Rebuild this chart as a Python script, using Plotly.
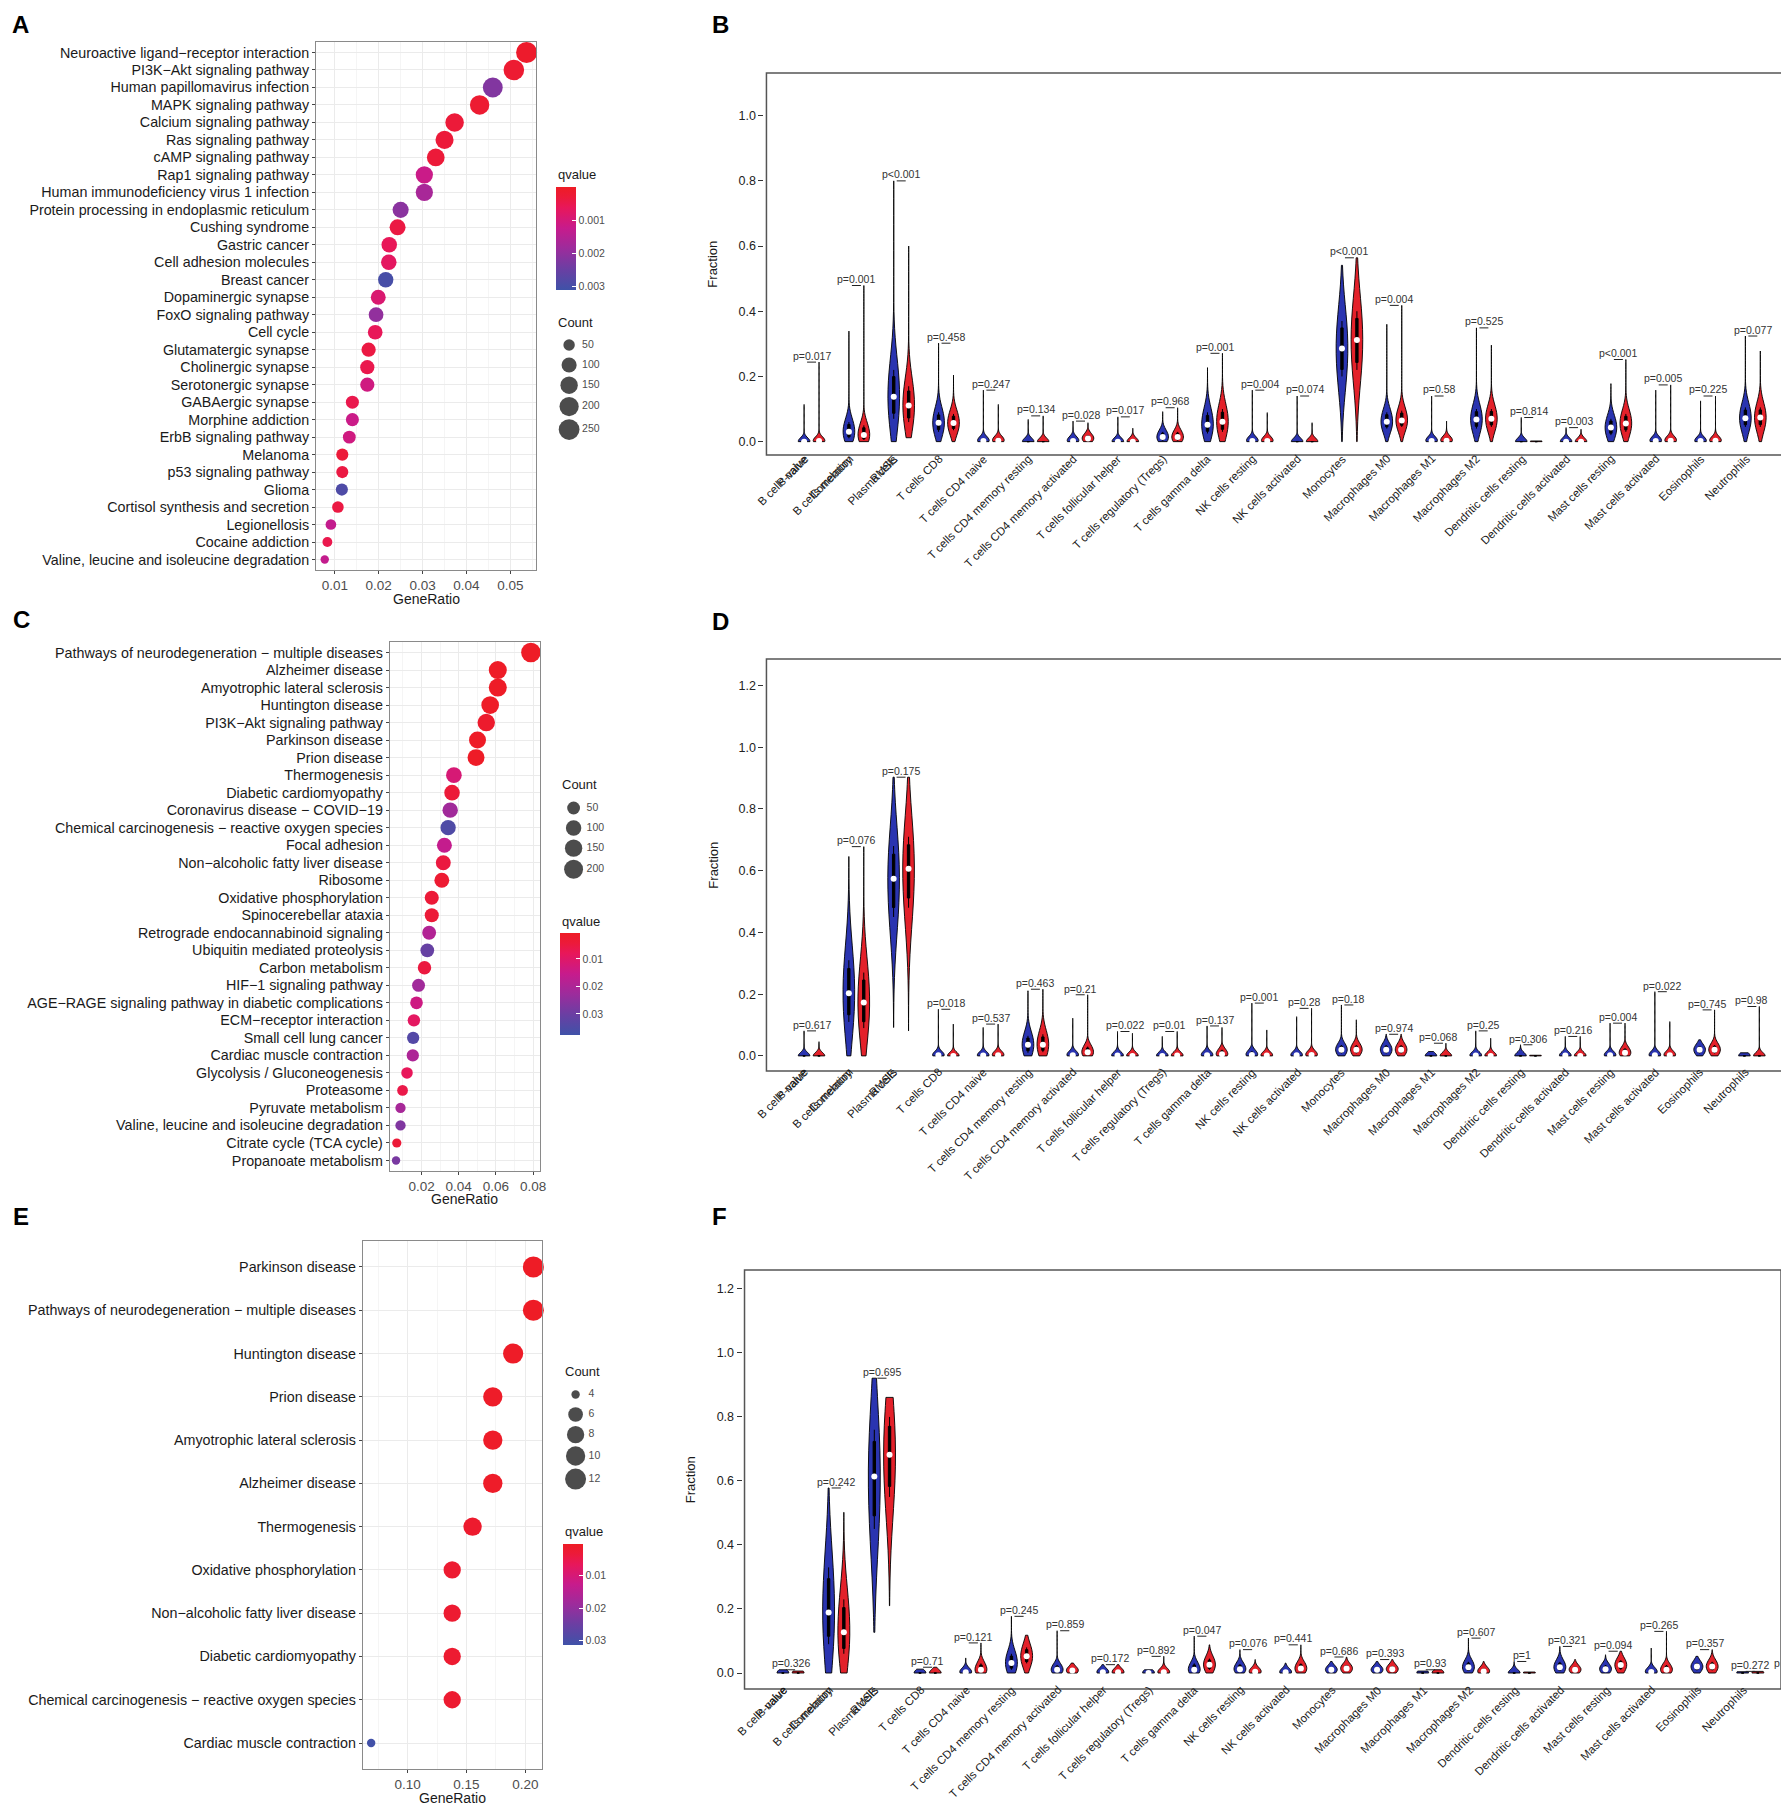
import plotly.graph_objects as go

W, H = 1789, 1807
FONT = 'Liberation Sans, Arial, sans-serif'

# ---------------- KEGG enrichment dot plots (A, C, E) ----------------
terms_a = ['Neuroactive ligand−receptor interaction', 'PI3K−Akt signaling pathway',
           'Human papillomavirus infection', 'MAPK signaling pathway', 'Calcium signaling pathway',
           'Ras signaling pathway', 'cAMP signaling pathway', 'Rap1 signaling pathway',
           'Human immunodeficiency virus 1 infection', 'Protein processing in endoplasmic reticulum',
           'Cushing syndrome', 'Gastric cancer', 'Cell adhesion molecules', 'Breast cancer',
           'Dopaminergic synapse', 'FoxO signaling pathway', 'Cell cycle', 'Glutamatergic synapse',
           'Cholinergic synapse', 'Serotonergic synapse', 'GABAergic synapse', 'Morphine addiction',
           'ErbB signaling pathway', 'Melanoma', 'p53 signaling pathway', 'Glioma',
           'Cortisol synthesis and secretion', 'Legionellosis', 'Cocaine addiction',
           'Valine, leucine and isoleucine degradation']
ratio_a = [0.0537, 0.0508, 0.0460, 0.0430, 0.0373, 0.0350, 0.0330, 0.0304, 0.0304, 0.0250,
           0.0243, 0.0224, 0.0223, 0.0216, 0.0199, 0.0194, 0.0192, 0.0177, 0.0174, 0.0174,
           0.0140, 0.0140, 0.0133, 0.0117, 0.0117, 0.0116, 0.0107, 0.0091, 0.0083, 0.0077]
count_a = [258, 244, 221, 206, 179, 168, 158, 146, 146, 120, 117, 108, 107, 104, 96,
           93, 92, 85, 84, 84, 67, 67, 64, 56, 56, 56, 51, 44, 40, 37]
qval_a = [0.0001, 0.0002, 0.0022, 0.0002, 0.0003, 0.0003, 0.0003, 0.0012, 0.0017, 0.0021,
          0.0004, 0.0006, 0.0007, 0.0030, 0.0009, 0.0020, 0.0006, 0.0004, 0.0005, 0.0011,
          0.0005, 0.0012, 0.0011, 0.0003, 0.0004, 0.0029, 0.0004, 0.0013, 0.0005, 0.0013]

terms_c = ['Pathways of neurodegeneration − multiple diseases', 'Alzheimer disease',
           'Amyotrophic lateral sclerosis', 'Huntington disease', 'PI3K−Akt signaling pathway',
           'Parkinson disease', 'Prion disease', 'Thermogenesis', 'Diabetic cardiomyopathy',
           'Coronavirus disease − COVID−19', 'Chemical carcinogenesis − reactive oxygen species',
           'Focal adhesion', 'Non−alcoholic fatty liver disease', 'Ribosome',
           'Oxidative phosphorylation', 'Spinocerebellar ataxia',
           'Retrograde endocannabinoid signaling', 'Ubiquitin mediated proteolysis',
           'Carbon metabolism', 'HIF−1 signaling pathway',
           'AGE−RAGE signaling pathway in diabetic complications', 'ECM−receptor interaction',
           'Small cell lung cancer', 'Cardiac muscle contraction', 'Glycolysis / Gluconeogenesis',
           'Proteasome', 'Pyruvate metabolism', 'Valine, leucine and isoleucine degradation',
           'Citrate cycle (TCA cycle)', 'Propanoate metabolism']
ratio_c = [0.0788, 0.0610, 0.0610, 0.0569, 0.0548, 0.0501, 0.0493, 0.0374, 0.0364, 0.0354,
           0.0343, 0.0323, 0.0317, 0.0309, 0.0255, 0.0255, 0.0241, 0.0231, 0.0216, 0.0184,
           0.0173, 0.0159, 0.0155, 0.0153, 0.0122, 0.0098, 0.0087, 0.0087, 0.0067, 0.0063]
count_c = [221, 171, 171, 159, 153, 140, 138, 105, 102, 99, 96, 90, 89, 87, 71,
           71, 67, 65, 60, 52, 48, 45, 43, 43, 34, 27, 24, 24, 19, 18]
qval_c = [0.001, 0.001, 0.001, 0.001, 0.002, 0.001, 0.001, 0.012, 0.004, 0.022,
          0.035, 0.016, 0.005, 0.003, 0.004, 0.004, 0.019, 0.031, 0.005, 0.022,
          0.014, 0.009, 0.034, 0.020, 0.008, 0.006, 0.021, 0.027, 0.004, 0.028]

terms_e = ['Parkinson disease', 'Pathways of neurodegeneration − multiple diseases',
           'Huntington disease', 'Prion disease', 'Amyotrophic lateral sclerosis',
           'Alzheimer disease', 'Thermogenesis', 'Oxidative phosphorylation',
           'Non−alcoholic fatty liver disease', 'Diabetic cardiomyopathy',
           'Chemical carcinogenesis − reactive oxygen species', 'Cardiac muscle contraction']
ratio_e = [0.2069, 0.2069, 0.1897, 0.1724, 0.1724, 0.1724, 0.1552, 0.1379, 0.1379, 0.1379,
           0.1379, 0.0690]
count_e = [12, 12, 11, 10, 10, 10, 9, 8, 8, 8, 8, 4]
qval_e = [0.0003, 0.0003, 0.0006, 0.0008, 0.0008, 0.0008, 0.0015, 0.002, 0.002, 0.002,
          0.002, 0.031]

# ---------------- CIBERSORT immune fractions (B, D, F) ----------------
cells = ['B cells naive', 'B cells memory', 'Plasma cells', 'T cells CD8', 'T cells CD4 naive',
         'T cells CD4 memory resting', 'T cells CD4 memory activated',
         'T cells follicular helper', 'T cells regulatory (Tregs)', 'T cells gamma delta',
         'NK cells resting', 'NK cells activated', 'Monocytes', 'Macrophages M0',
         'Macrophages M1', 'Macrophages M2', 'Dendritic cells resting',
         'Dendritic cells activated', 'Mast cells resting', 'Mast cells activated',
         'Eosinophils', 'Neutrophils']
extra_cols = ['P-value', 'Correlation', 'RMSE']

# each violin: [min, q1, median, q3, max]
b_normal = [[0, 0, 0, 0.003, 0.114], [0, 0.01, 0.03, 0.06, 0.339], [0, 0.07, 0.138, 0.22, 0.80],
            [0, 0.03, 0.058, 0.09, 0.302], [0, 0, 0.002, 0.01, 0.158], [0, 0, 0, 0, 0.068],
            [0, 0, 0.002, 0.01, 0.063], [0, 0, 0, 0.002, 0.076], [0, 0.003, 0.014, 0.03, 0.092],
            [0, 0.025, 0.052, 0.09, 0.227], [0, 0, 0.002, 0.01, 0.158], [0, 0, 0, 0, 0.140],
            [0, 0.20, 0.286, 0.37, 0.541], [0, 0.04, 0.061, 0.09, 0.360],
            [0, 0, 0.002, 0.01, 0.140], [0, 0.04, 0.068, 0.10, 0.349], [0, 0, 0, 0, 0.074],
            [0, 0, 0, 0.001, 0.043], [0, 0.02, 0.043, 0.07, 0.178], [0, 0, 0.002, 0.01, 0.158],
            [0, 0, 0.002, 0.008, 0.125], [0, 0.045, 0.072, 0.105, 0.324]]
b_tumor = [[0, 0, 0.002, 0.008, 0.244], [0, 0.005, 0.02, 0.05, 0.479],
           [0.012, 0.06, 0.111, 0.17, 0.60], [0, 0.035, 0.057, 0.085, 0.204],
           [0, 0, 0.003, 0.012, 0.114], [0, 0, 0, 0, 0.079], [0, 0.002, 0.01, 0.02, 0.058],
           [0, 0, 0, 0.001, 0.041], [0, 0.003, 0.014, 0.03, 0.104], [0, 0.03, 0.061, 0.1, 0.271],
           [0, 0, 0.002, 0.01, 0.089], [0, 0, 0, 0, 0.058], [0, 0.22, 0.312, 0.40, 0.564],
           [0, 0.045, 0.065, 0.095, 0.418], [0, 0, 0.003, 0.012, 0.063],
           [0, 0.045, 0.070, 0.10, 0.296], [0, 0, 0, 0, 0.002], [0, 0, 0, 0.001, 0.038],
           [0, 0.03, 0.056, 0.085, 0.252], [0, 0, 0.003, 0.012, 0.174],
           [0, 0, 0.003, 0.01, 0.140], [0, 0.045, 0.074, 0.105, 0.278]]
b_p = ['0.017', '0.001', '<0.001', '0.458', '0.247', '0.134', '0.028', '0.017', '0.968', '0.001',
       '0.004', '0.074', '<0.001', '0.004', '0.58', '0.525', '0.814', '0.003', '<0.001', '0.005',
       '0.225', '0.077']

d_normal = [[0, 0, 0, 0, 0.081], [0, 0.11, 0.203, 0.31, 0.646], [0.092, 0.45, 0.574, 0.68, 0.903],
            [0, 0, 0.002, 0.008, 0.151], [0, 0, 0.001, 0.006, 0.092],
            [0, 0.01, 0.036, 0.065, 0.211], [0, 0, 0.002, 0.01, 0.122],
            [0, 0, 0.001, 0.005, 0.079], [0, 0, 0, 0.003, 0.063], [0, 0, 0.002, 0.01, 0.097],
            [0, 0, 0.003, 0.015, 0.171], [0, 0, 0.002, 0.008, 0.127],
            [0, 0.008, 0.02, 0.035, 0.165], [0, 0.008, 0.02, 0.035, 0.070], [0, 0, 0, 0, 0.014],
            [0, 0, 0.001, 0.005, 0.081], [0, 0, 0, 0, 0.036], [0, 0, 0.001, 0.004, 0.063],
            [0, 0, 0.002, 0.008, 0.106], [0, 0, 0.002, 0.01, 0.208],
            [0, 0.008, 0.02, 0.032, 0.052], [0, 0, 0, 0, 0.010]]
d_tumor = [[0, 0, 0, 0, 0.046], [0, 0.09, 0.173, 0.27, 0.678], [0.081, 0.48, 0.606, 0.71, 0.903],
           [0, 0, 0, 0.002, 0.103], [0, 0, 0.002, 0.01, 0.103], [0, 0.012, 0.036, 0.07, 0.216],
           [0, 0.002, 0.012, 0.03, 0.198], [0, 0, 0, 0.003, 0.073], [0, 0, 0.001, 0.004, 0.079],
           [0, 0.001, 0.005, 0.02, 0.092], [0, 0, 0.001, 0.006, 0.084],
           [0, 0, 0.003, 0.012, 0.154], [0, 0.008, 0.02, 0.035, 0.117],
           [0, 0.008, 0.02, 0.035, 0.070], [0, 0, 0, 0, 0.041], [0, 0, 0, 0.003, 0.057],
           [0, 0, 0, 0, 0.002], [0, 0, 0, 0.003, 0.063], [0, 0.002, 0.01, 0.025, 0.106],
           [0, 0, 0.002, 0.01, 0.111], [0, 0.008, 0.02, 0.035, 0.149], [0, 0, 0, 0, 0.160]]
d_p = ['0.617', '0.076', '0.175', '0.018', '0.537', '0.463', '0.21', '0.022', '0.01', '0.137',
       '0.001', '0.28', '0.18', '0.974', '0.068', '0.25', '0.306', '0.216', '0.004', '0.022',
       '0.745', '0.98']

f_normal = [[0, 0, 0, 0, 0.010], [0, 0.09, 0.189, 0.33, 0.578], [0.127, 0.45, 0.614, 0.76, 0.921],
            [0, 0, 0, 0, 0.012], [0, 0, 0.002, 0.01, 0.047], [0, 0.01, 0.031, 0.06, 0.177],
            [0, 0.002, 0.01, 0.025, 0.132], [0, 0, 0.002, 0.008, 0.026],
            [0, 0, 0, 0.002, 0.010], [0, 0.003, 0.01, 0.03, 0.115],
            [0, 0.004, 0.012, 0.028, 0.073], [0, 0, 0.002, 0.008, 0.031],
            [0, 0.004, 0.01, 0.018, 0.036], [0, 0.004, 0.01, 0.018, 0.036], [0, 0, 0, 0, 0.006],
            [0, 0.006, 0.018, 0.035, 0.109], [0, 0, 0, 0, 0.036], [0, 0.006, 0.018, 0.035, 0.083],
            [0, 0.004, 0.012, 0.025, 0.057], [0, 0, 0.003, 0.012, 0.078],
            [0, 0.008, 0.02, 0.032, 0.052], [0, 0, 0, 0, 0.004]]
f_tumor = [[0, 0, 0, 0, 0.006], [0, 0.06, 0.127, 0.23, 0.502], [0.21, 0.55, 0.682, 0.80, 0.861],
           [0, 0, 0, 0, 0.018], [0, 0.002, 0.01, 0.03, 0.094], [0, 0.03, 0.052, 0.08, 0.118],
           [0, 0.002, 0.008, 0.015, 0.031], [0, 0, 0.002, 0.008, 0.026],
           [0, 0, 0.002, 0.008, 0.052], [0, 0.01, 0.026, 0.045, 0.088],
           [0, 0, 0.004, 0.012, 0.042], [0, 0.004, 0.014, 0.03, 0.088],
           [0, 0.005, 0.014, 0.025, 0.050], [0, 0.005, 0.012, 0.022, 0.042], [0, 0, 0, 0, 0.010],
           [0, 0, 0.005, 0.014, 0.036], [0, 0, 0, 0, 0.003], [0, 0.004, 0.01, 0.02, 0.042],
           [0, 0.01, 0.025, 0.04, 0.068], [0, 0.003, 0.01, 0.025, 0.130],
           [0, 0.008, 0.02, 0.035, 0.073], [0, 0, 0, 0, 0.005]]
f_p = ['0.326', '0.242', '0.695', '0.71', '0.121', '0.245', '0.859', '0.172', '0.892', '0.047',
       '0.076', '0.441', '0.686', '0.393', '0.93', '0.607', '1', '0.321', '0.094', '0.265',
       '0.357', '0.272']

Q_SCALE = [[0, '#3f52a8'], [0.2, '#6a3fa3'], [0.4, '#9c2c9c'], [0.6, '#c71b8c'],
           [0.8, '#e8175a'], [0.9, '#ec1a3a'], [1, '#ee1c25']]
BLUE = '#2a34b0'
RED = '#e3212a'


def xdom(a, b):
    return [a / W, b / W]


def ydom(top, bot):
    return [1 - bot / H, 1 - top / H]


def dot_size(c, lo, hi, dmin, dmax):
    return dmin + (dmax - dmin) * ((c - lo) / (hi - lo)) ** 0.5


fig = go.Figure()
layout = {}
annotations = []
shapes = []


def ax_names(k):
    return ('xaxis' if k == 1 else f'xaxis{k}', 'yaxis' if k == 1 else f'yaxis{k}',
            'x' if k == 1 else f'x{k}', 'y' if k == 1 else f'y{k}')


def text(x, y, s, size, color='#1a1a1a', xanchor='left', yanchor='middle', angle=0, bold=False):
    annotations.append(dict(x=x / W, y=1 - y / H, xref='paper', yref='paper', showarrow=False,
                            text=f'<b>{s}</b>' if bold else s, xanchor=xanchor, yanchor=yanchor,
                            textangle=angle, font=dict(family=FONT, size=size, color=color)))


def dot_panel(k, terms, ratio, count, qval, box, xrange, dtick, dmax, qlim, qticks, cbar,
              breaks, leg):
    xk, yk, xa, ya = ax_names(k)
    lo, hi = min(count), max(count)
    fig.add_trace(go.Scatter(
        x=ratio, y=terms, mode='markers', xaxis=xa, yaxis=ya, cliponaxis=False,
        marker=dict(size=[dot_size(c, lo, hi, 8.4, dmax) for c in count],
                    color=[-q for q in qval], cmin=-qlim[1], cmax=-qlim[0],
                    colorscale=Q_SCALE, line=dict(width=0), showscale=True, opacity=1,
                    colorbar=dict(x=cbar[0] / W, xanchor='left', y=1 - cbar[1] / H,
                                  yanchor='top', len=cbar[2], lenmode='pixels', thickness=20,
                                  xpad=0, ypad=0, outlinewidth=0,
                                  tickvals=[-t for t in qticks], ticktext=[str(t) for t in qticks],
                                  ticks='inside', ticklen=4, tickcolor='white',
                                  tickfont=dict(family=FONT, size=10.5, color='#4d4d4d'))),
        showlegend=False, hoverinfo='skip'))
    n = len(terms)
    layout[xk] = dict(domain=xdom(box[0], box[1]), anchor=ya, range=xrange, dtick=dtick, tick0=0,
                      tickformat='.2f', showgrid=True, gridcolor='#ebebeb', gridwidth=1,
                      minor=dict(dtick=dtick / 2, tick0=0, showgrid=True, gridcolor='#f5f5f5'),
                      ticks='outside', ticklen=3, tickcolor='#444',
                      tickfont=dict(family=FONT, size=13.5, color='#4d4d4d'),
                      showline=True, mirror=True, linecolor='#8a8a8a', linewidth=1,
                      zeroline=False)
    layout[yk] = dict(domain=ydom(box[2], box[3]), anchor=xa, type='category',
                      categoryorder='array', categoryarray=terms[::-1], range=[-0.6, n - 0.4],
                      showgrid=True, gridcolor='#ebebeb', ticks='outside', ticklen=3,
                      tickcolor='#444', tickfont=dict(family=FONT, size=14.3, color='#1a1a1a'),
                      showline=True, mirror=True, linecolor='#8a8a8a', linewidth=1,
                      zeroline=False)
    text((box[0] + box[1]) / 2, leg[4], 'GeneRatio', 14, xanchor='center')
    # size legend
    d = [dot_size(b, lo, hi, 8.4, dmax) for b in breaks]
    ys = [leg[1]]
    for i in range(1, len(d)):
        ys.append(ys[-1] + (max(d[i - 1] + 3, 20) + max(d[i] + 3, 20)) / 2)
    fig.add_trace(go.Scatter(x=[leg[0]] * len(d), y=ys, mode='markers', xaxis='x7', yaxis='y7',
                             marker=dict(size=d, color='black', line=dict(width=0)),
                             showlegend=False, hoverinfo='skip'))
    fig.add_trace(go.Scatter(x=[leg[0] + 13] * len(d), y=ys, mode='text', xaxis='x7', yaxis='y7',
                             text=[str(b) for b in breaks], textposition='middle right',
                             textfont=dict(family=FONT, size=10.5, color='#4d4d4d'),
                             showlegend=False, hoverinfo='skip'))
    text(cbar[0], leg[2], 'Count', 13)
    text(cbar[0], leg[3], 'qvalue', 13)


dot_panel(1, terms_a, ratio_a, count_a, qval_a, (309, 530, 34, 562), [0.0057, 0.0559], 0.01, 21,
          (0, 0.00312), [0.001, 0.002, 0.003], (550, 179, 103), [50, 100, 150, 200, 250],
          (563, 337, 314, 166.5, 591))
dot_panel(2, terms_c, ratio_c, count_c, qval_c, (383, 534, 634, 1163), [0.0029, 0.0838], 0.02, 19.5,
          (0.0006, 0.0377), [0.01, 0.02, 0.03], (554, 925, 102), [50, 100, 150, 200],
          (567.5, 800, 777, 913, 1191))
dot_panel(3, terms_e, ratio_e, count_e, qval_e, (356, 536, 1233, 1761), [0.0619, 0.2144], 0.05, 21,
          (0.0002, 0.0314), [0.01, 0.02, 0.03], (557, 1536, 101), [4, 6, 8, 10, 12],
          (569.5, 1386.5, 1363.5, 1523.3, 1790))

XR = [-2.52, 65.52]


def violin_panel(k, normal, tumor, pvals, box, yrange):
    xk, yk, xa, ya = ax_names(k)
    med_x, med_y, br_x, br_y = [], [], [], []
    for i, (nv, tv) in enumerate(zip(normal, tumor)):
        for pos, st, col in ((3 * i, nv, BLUE), (3 * i + 1, tv, RED)):
            mn, q1, md, q3, mx = st
            fig.add_trace(go.Violin(
                x0=pos, y=[q1, md, q3], xaxis=xa, yaxis=ya, orientation='v',
                spanmode='manual', span=[mn, mx], bandwidth=max(0.55 * (q3 - q1), 0.011),
                width=0.78, scalemode='width', fillcolor=col,
                line=dict(color='black', width=0.9), points=False,
                box=dict(visible=True, width=0.2, fillcolor='black',
                         line=dict(color='black', width=1)),
                meanline=dict(visible=False), hoverinfo='skip', showlegend=False))
            if q3 > 0:
                med_x.append(pos)
                med_y.append(md)
        top = max(nv[4], tv[4])
        br_x += [3 * i + 0.2, 3 * i + 0.8, None]
        br_y += [top, top, None]
        p = pvals[i]
        annotations.append(dict(x=3 * i + 0.5, y=top + 0.02, xref=xa, yref=ya, showarrow=False,
                                text='p' + ('' if p.startswith('<') else '=') + p,
                                xanchor='center', yanchor='middle',
                                font=dict(family=FONT, size=10.5, color='#333')))
    fig.add_trace(go.Scatter(x=br_x, y=br_y, mode='lines', xaxis=xa, yaxis=ya,
                             line=dict(color='#222', width=1), showlegend=False,
                             hoverinfo='skip'))
    fig.add_trace(go.Scatter(x=med_x, y=med_y, mode='markers', xaxis=xa, yaxis=ya,
                             marker=dict(size=6, color='white', line=dict(width=0)),
                             showlegend=False, hoverinfo='skip'))
    layout[xk] = dict(domain=xdom(box[0], box[1]), anchor=ya, range=XR, visible=False)
    layout[yk] = dict(domain=ydom(box[2], box[3]), anchor='free', position=(box[0] - 3) / W,
                      range=yrange, dtick=0.2, tick0=0, tickformat='.1f', showgrid=False,
                      zeroline=False, showline=False, ticks='outside', ticklen=5,
                      tickcolor='#333', tickfont=dict(family=FONT, size=12.5, color='#222'))
    shapes.append(dict(type='rect', xref=f'{xa} domain', yref=f'{ya} domain', x0=0, x1=1,
                       y0=0, y1=1, line=dict(color='#555', width=1.5)))
    # rotated cell labels under the box (names recycle over positions as in the source plot)
    labels = cells + extra_cols
    y_lab = box[3] - (-0.05 - yrange[0]) / (yrange[1] - yrange[0]) * (box[3] - box[2])
    for j, lab in enumerate(labels):
        xpos = 3 * (j % len(cells)) + 1
        annotations.append(dict(x=xpos, y=1 - y_lab / H, xref=xa, yref='paper', showarrow=False,
                                text=lab, textangle=-45, xanchor='right', yanchor='top',
                                xshift=-6, yshift=8,
                                font=dict(family=FONT, size=11.5, color='#1a1a1a')))
    text(box[0] - 54, (box[2] + box[3]) / 2, 'Fraction', 13, xanchor='center', angle=-90)


violin_panel(4, b_normal, b_tumor, b_p, (761, 1781, 65, 447), [-0.041, 1.131])
violin_panel(5, d_normal, d_tumor, d_p, (761, 1780, 651, 1063), [-0.049, 1.286])
violin_panel(6, f_normal, f_tumor, f_p, (739, 1779, 1262, 1681), [-0.050, 1.259])

text(1782, 313, 'p', 10.5, color='#333')
text(1770, 1655, 'p', 10.5, color='#333')

# panel letters
for lab, x, y in (('A', 2, 17), ('B', 704, 17), ('C', 3, 611), ('D', 704, 613),
                  ('E', 3, 1208), ('F', 704, 1208)):
    text(x, y, lab, 24, color='black', bold=True)

# pixel overlay axes for the size legends
layout['xaxis7'] = dict(domain=[0, 1], range=[0, W], visible=False, anchor='y7')
layout['yaxis7'] = dict(domain=[0, 1], range=[H, 0], visible=False, anchor='x7')

fig.update_layout(width=W, height=H, margin=dict(l=0, r=0, t=0, b=0),
                  paper_bgcolor='white', plot_bgcolor='rgba(0,0,0,0)',
                  violinmode='overlay', font=dict(family=FONT),
                  annotations=annotations, shapes=shapes, **layout)

fig.write_html('out.html')
